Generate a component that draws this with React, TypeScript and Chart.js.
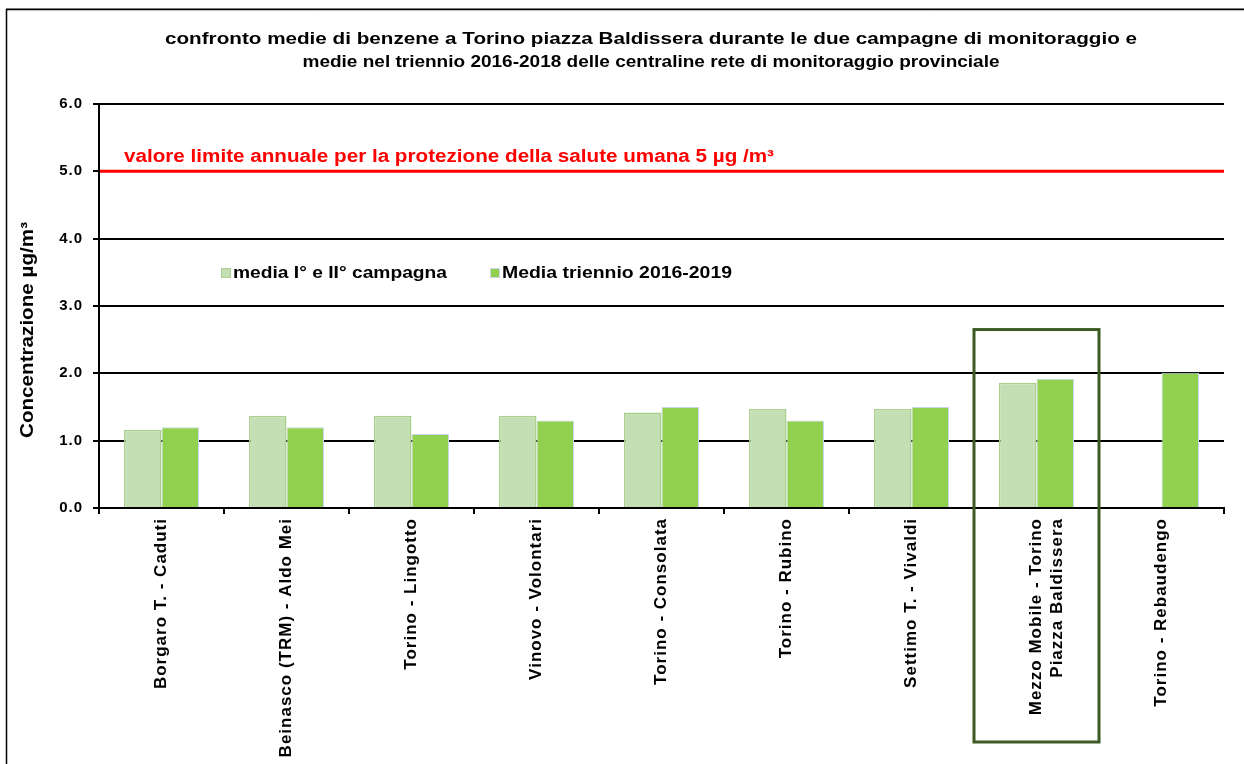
import { useEffect, useRef } from "react";
import { Chart, registerables } from "chart.js";

Chart.register(...registerables);

const categories: (string | string[])[] = [
  "Borgaro T. - Caduti",
  "Beinasco (TRM) - Aldo Mei",
  "Torino - Lingotto",
  "Vinovo - Volontari",
  "Torino - Consolata",
  "Torino - Rubino",
  "Settimo T. - Vivaldi",
  ["Mezzo Mobile - Torino", "Piazza Baldissera"],
  "Torino - Rebaudengo",
];
const campagnaValues = [1.16, 1.37, 1.37, 1.37, 1.42, 1.47, 1.47, 1.86, null];
const triennioValues = [1.2, 1.2, 1.1, 1.3, 1.5, 1.3, 1.5, 1.92, 2.01];
const seriesNames = ["media I° e II° campagna", "Media triennio 2016-2019"];
const titleLines = [
  "confronto medie di benzene a Torino piazza Baldissera durante le due campagne di monitoraggio e",
  "medie nel triennio 2016-2018 delle centraline rete di monitoraggio provinciale",
];
const yAxisTitle = "Concentrazione µg/m³";
const limitLabel = "valore limite annuale per la protezione della salute umana 5 µg /m³";
const LIMIT_VALUE = 5;
const Y_MIN = 0;
const Y_MAX = 6;
const Y_STEP = 1;
const HIGHLIGHT_INDEX = 7;
const HIGHLIGHT_TOP_VALUE = 2.65;

const FONT = "'Liberation Sans', Arial, sans-serif";
const LIGHT_FILL = "#C4DFB4";
const LIGHT_BORDER = "#A9D08E";
const DARK_FILL = "#92D050";
const DARK_BORDER = "#C9D6EA";

function fitText(
  ctx: CanvasRenderingContext2D,
  text: string,
  x: number,
  y: number,
  targetW: number,
  align: CanvasTextAlign
) {
  const w = ctx.measureText(text).width;
  const sx = targetW / w;
  ctx.save();
  ctx.translate(x, y);
  ctx.scale(sx, 1);
  ctx.textAlign = align;
  ctx.fillText(text, 0, 0);
  ctx.restore();
}

const decorPlugin = {
  id: "decor",
  beforeDraw(chart: any) {
    const ctx = chart.ctx as any;
    ctx.letterSpacing = "1px";
  },
  afterDatasetsDraw(chart: any) {
    const { ctx, chartArea, scales } = chart;
    const x = scales.x;
    const y = scales.y;
    ctx.save();
    (ctx as any).letterSpacing = "0px";
    // limit line
    const yl = y.getPixelForValue(LIMIT_VALUE);
    ctx.strokeStyle = "#FF0000";
    ctx.lineWidth = 3;
    ctx.beginPath();
    ctx.moveTo(chartArea.left + 1, yl);
    ctx.lineTo(chartArea.right, yl);
    ctx.stroke();
    // limit label
    ctx.fillStyle = "#FF0000";
    ctx.font = `bold 18px ${FONT}`;
    ctx.textBaseline = "alphabetic";
    fitText(ctx, limitLabel, chartArea.left + 25, yl - 9, 650, "left");

    // highlight rectangle
    const cw = x.width / categories.length;
    const cx = x.getPixelForValue(HIGHLIGHT_INDEX);
    const top = y.getPixelForValue(HIGHLIGHT_TOP_VALUE);
    ctx.strokeStyle = "#3B5A24";
    ctx.lineWidth = 3;
    ctx.strokeRect(cx - cw / 2, top, cw, chartArea.bottom + 234 - top);
    ctx.restore();
  },
  afterDraw(chart: any) {
    const { ctx, width, height } = chart;
    ctx.save();
    (ctx as any).letterSpacing = "0px";
    // frame
    ctx.strokeStyle = "#A0A0A0";
    ctx.lineWidth = 1;
    ctx.beginPath();
    ctx.moveTo(6, 8.5);
    ctx.lineTo(width, 8.5);
    ctx.stroke();
    ctx.strokeStyle = "#000";
    ctx.lineWidth = 1.5;
    ctx.beginPath();
    ctx.moveTo(6.5, height);
    ctx.lineTo(6.5, 9.5);
    ctx.lineTo(width, 9.5);
    ctx.stroke();

    // title
    ctx.fillStyle = "#000";
    ctx.font = `bold 17px ${FONT}`;
    ctx.textBaseline = "alphabetic";
    fitText(ctx, titleLines[0], 651, 44, 972, "center");
    fitText(ctx, titleLines[1], 651, 67, 697, "center");

    // y-axis title
    ctx.save();
    ctx.translate(28, 330);
    ctx.rotate(-Math.PI / 2);
    ctx.font = `bold 18px ${FONT}`;
    ctx.textBaseline = "middle";
    fitText(ctx, yAxisTitle, 0, 0, 216, "center");
    ctx.restore();

    // legend
    const legendY = 273;
    const items = [
      { x: 221, w: 214, fill: LIGHT_FILL, border: LIGHT_BORDER, text: seriesNames[0] },
      { x: 490, w: 230, fill: DARK_FILL, border: DARK_BORDER, text: seriesNames[1] },
    ];
    ctx.font = `bold 17px ${FONT}`;
    ctx.textBaseline = "middle";
    items.forEach((it) => {
      ctx.fillStyle = it.fill;
      ctx.fillRect(it.x, legendY - 5, 10, 10);
      ctx.strokeStyle = it.border;
      ctx.lineWidth = 1;
      ctx.strokeRect(it.x + 0.5, legendY - 4.5, 9, 9);
      ctx.fillStyle = "#000";
      fitText(ctx, it.text, it.x + 12, legendY, it.w, "left");
    });
    ctx.restore();
  },
};

export default function App() {
  const ref = useRef<HTMLCanvasElement | null>(null);
  useEffect(() => {
    if (!ref.current) return;
    const chart = new Chart(ref.current, {
      type: "bar",
      data: {
        labels: categories as any,
        datasets: [
          {
            label: seriesNames[0],
            data: campagnaValues as any,
            backgroundColor: LIGHT_FILL,
            borderColor: LIGHT_BORDER,
            borderWidth: 1.5,
            categoryPercentage: 0.6,
            barPercentage: 1.0,
          },
          {
            label: seriesNames[1],
            data: triennioValues,
            backgroundColor: DARK_FILL,
            borderColor: DARK_BORDER,
            borderWidth: 1,
            categoryPercentage: 0.6,
            barPercentage: 1.0,
          },
        ],
      },
      options: {
        animation: false,
        responsive: true,
        maintainAspectRatio: false,
        layout: { padding: { left: 0, top: 104, right: 20, bottom: 0 } },
        plugins: {
          legend: { display: false },
          title: { display: false },
          tooltip: { enabled: false },
        },
        scales: {
          x: {
            offset: true,
            grid: {
              display: true,
              drawOnChartArea: false,
              drawTicks: true,
              tickLength: 6,
              color: "#000",
              lineWidth: 2,
              offset: true,
            },
            border: { display: true, color: "#000", width: 2 },
            ticks: {
              color: "#000",
              font: { family: FONT, size: 17, weight: "bold" },
              minRotation: 90,
              maxRotation: 90,
              padding: 4,
              autoSkip: false,
            },
            afterFit(scale: any) {
              scale.height = 256;
            },
          },
          y: {
            min: Y_MIN,
            max: Y_MAX,
            grid: {
              color: "#000",
              lineWidth: 2,
              tickLength: 6,
              drawTicks: true,
            },
            border: { display: true, color: "#000", width: 2 },
            ticks: {
              stepSize: Y_STEP,
              color: "#000",
              padding: 10,
              font: { family: FONT, size: 15, weight: "bold" },
              callback: (v: any) => Number(v).toFixed(1),
            },
            afterFit(scale: any) {
              scale.width = 99;
            },
          },
        },
      },
      plugins: [decorPlugin],
    });
    return () => chart.destroy();
  }, []);
  return (
    <div style={{ position: "absolute", left: 0, top: 0, width: 1244, height: 764 }}>
      <canvas ref={ref} />
    </div>
  );
}
